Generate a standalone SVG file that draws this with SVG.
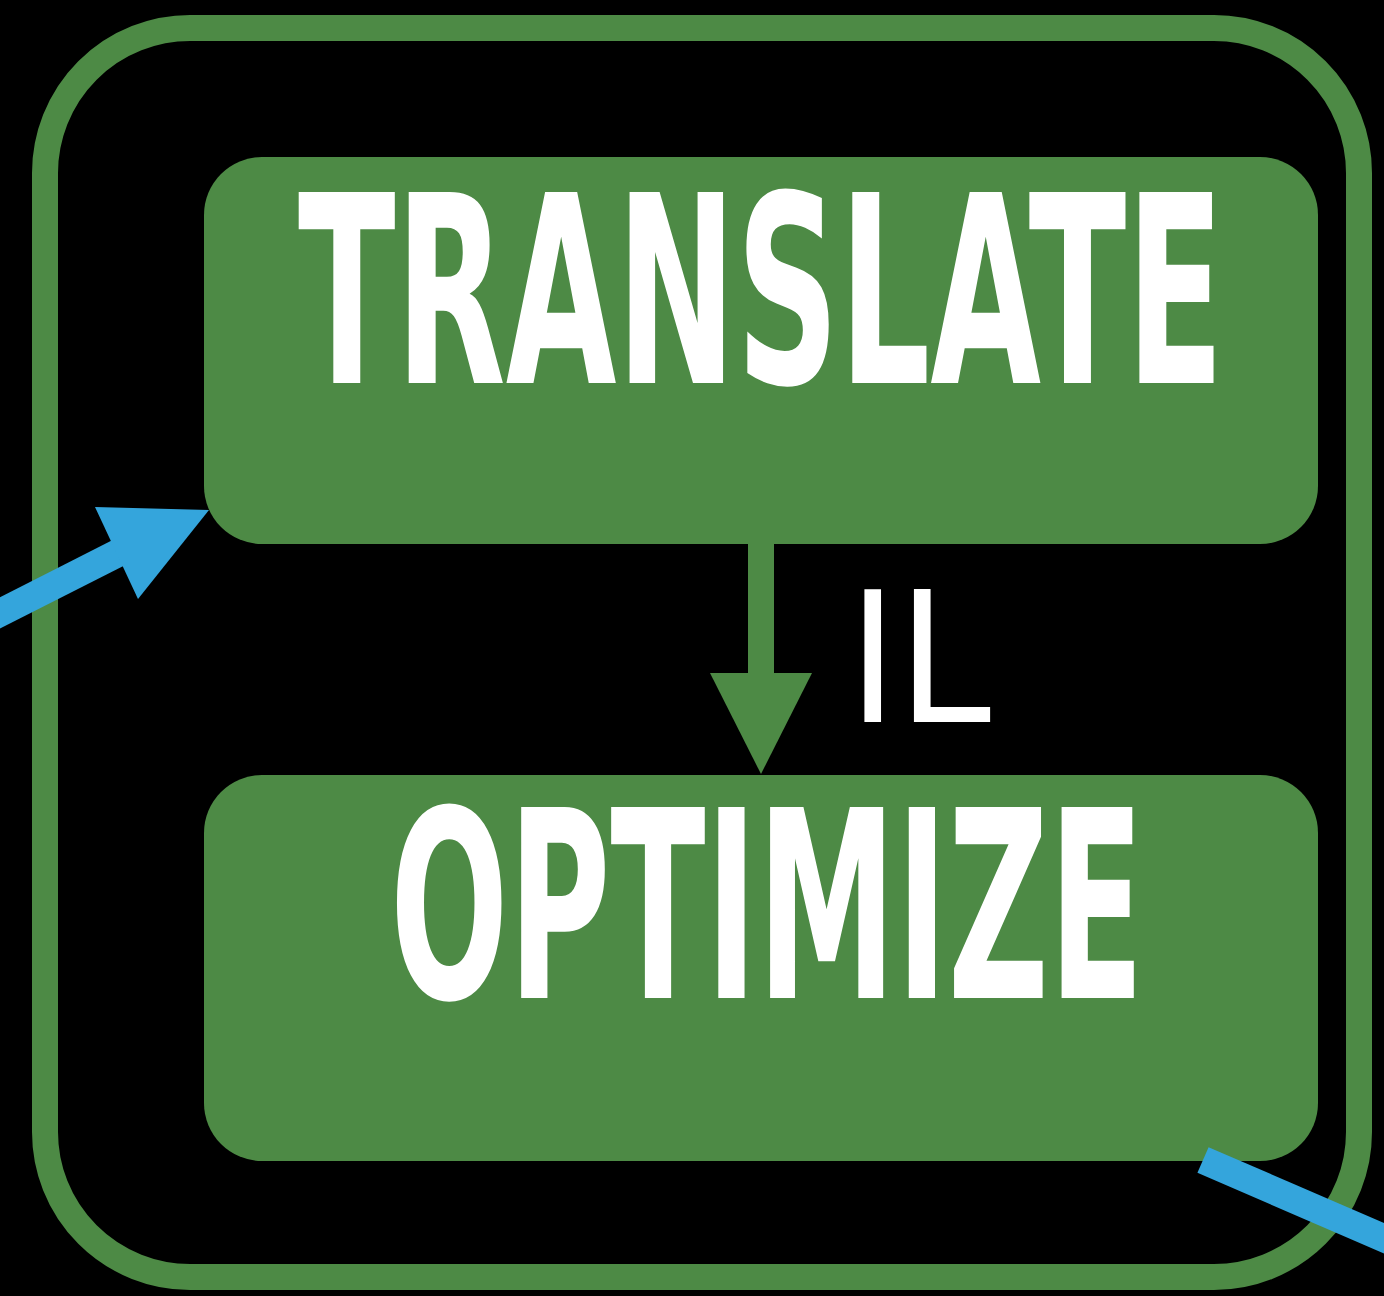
<svg xmlns="http://www.w3.org/2000/svg" width="1384" height="1296" viewBox="0 0 1384 1296">
<style>
.box{fill:#4D8A45}
.big{font-family:"DejaVu Sans","Liberation Sans",sans-serif;font-weight:bold;font-stretch:condensed;font-size:262px;fill:#fff}
.lbl{font-family:"DejaVu Sans","Liberation Sans",sans-serif;font-size:182px;fill:#fff}
.blue{stroke:#34A5DC;stroke-width:28;fill:none}
</style>
<rect width="1384" height="1296" fill="#000"/>
<g id="frame">
<rect x="45" y="28" width="1314" height="1249" rx="145" ry="145" fill="none" stroke="#4D8A45" stroke-width="26"/>
</g>
<g id="translate">
<rect class="box" x="204" y="157" width="1114" height="387" rx="58"/>
<text class="big" x="298" y="383" textLength="926" lengthAdjust="spacingAndGlyphs">TRANSLATE</text>
</g>
<g id="optimize">
<rect class="box" x="204" y="775" width="1114" height="386" rx="58"/>
<text class="big" x="390" y="998" textLength="754" lengthAdjust="spacingAndGlyphs">OPTIMIZE</text>
</g>
<g id="connectors">
<line x1="761" y1="544" x2="761" y2="680" stroke="#4D8A45" stroke-width="26"/>
<polygon points="710,673 812,673 761,774" fill="#4D8A45"/>
<text class="lbl" x="848" y="722" textLength="143" lengthAdjust="spacingAndGlyphs">IL</text>
<line class="blue" x1="-20" y1="623" x2="120" y2="552"/>
<polygon points="95,507 209,510 138,599" fill="#34A5DC"/>
<line class="blue" x1="1203" y1="1160" x2="1430" y2="1258" stroke-width="27"/>
</g>
</svg>
